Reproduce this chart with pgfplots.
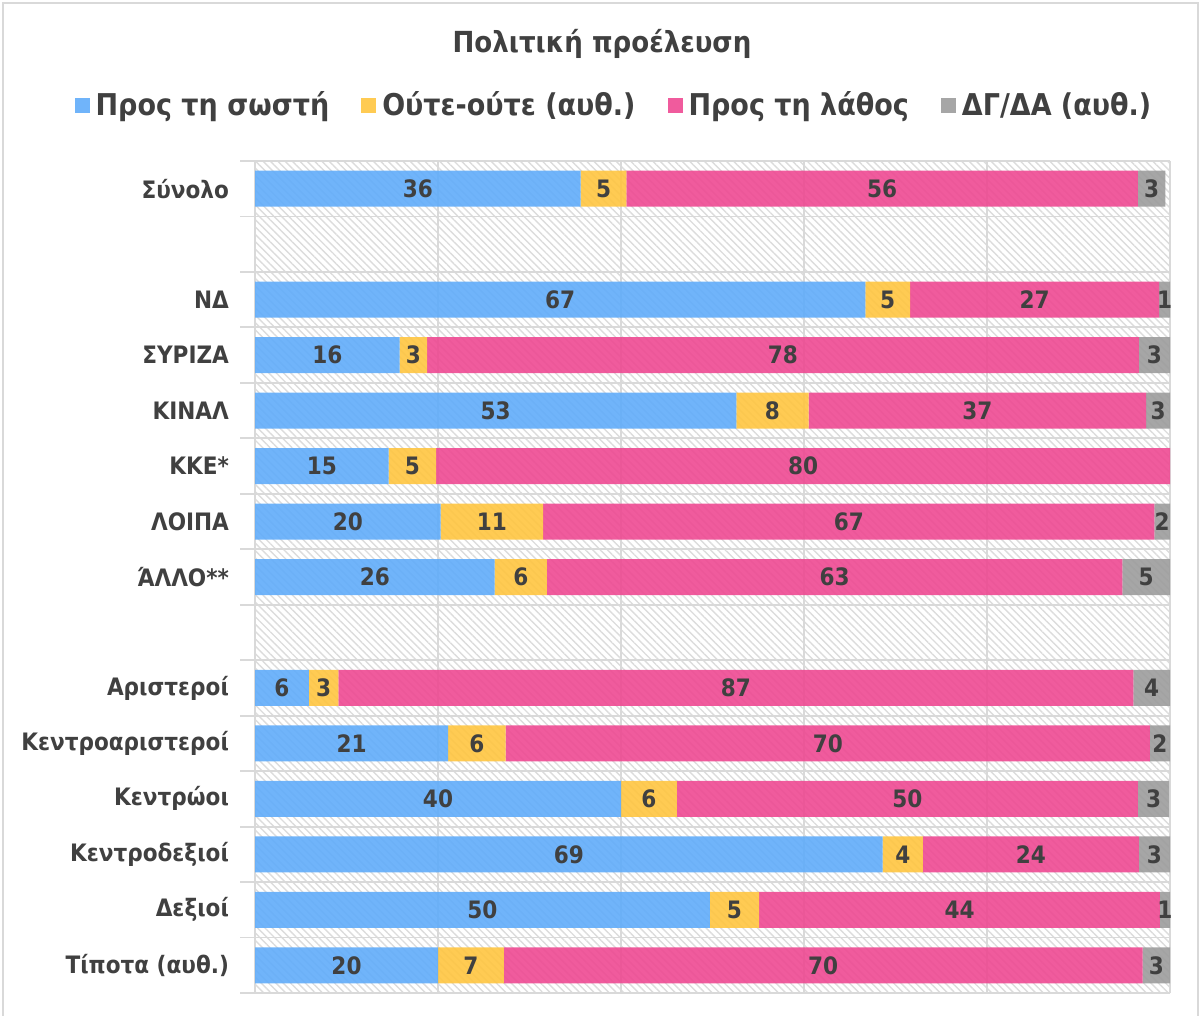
\documentclass[border=0pt]{standalone}
\usepackage{fontspec}
\setmainfont{DejaVu Sans Condensed}
\usepackage{pgfplots}
\pgfplotsset{compat=1.18}
\usepackage{pgfplotstable}
\usetikzlibrary{patterns.meta}
\definecolor{cblue}{HTML}{60ACFA}
\definecolor{cyellow}{HTML}{FFC540}
\definecolor{cpink}{HTML}{EE4992}
\definecolor{cgrey}{HTML}{9C9C9C}
\definecolor{labc}{HTML}{404040}
\definecolor{gridc}{HTML}{D9D9D9}
\definecolor{hatchc}{HTML}{DCDCDC}

\pgfplotstableread{
idx a b c d
0 35.6 5.0 55.9 3.0
2 66.7 4.9 27.2 1.2
3 15.8 3.0 77.8 3.4
4 52.6 7.9 36.9 2.6
5 14.6 5.2 80.2 0
6 20.3 11.2 66.8 1.7
7 26.2 5.7 62.9 5.2
9 5.9 3.2 86.9 4.0
10 21.1 6.3 70.4 2.2
11 40.0 6.1 50.4 3.4
12 68.6 4.4 23.6 3.4
13 49.7 5.4 43.8 1.1
14 20.0 7.2 69.8 3.0
}\data

\pgfplotsset{
  common/.style={
    at={(127.5pt,11.5pt)}, anchor=south west,
    scale only axis, width=457.5pt, height=416pt,
    xmin=0, xmax=100, ymin=-0.5, ymax=14.5, y dir=reverse,
  },
  lab/.style={draw=none, mark=none, fill=none},
}

\begin{document}
\begin{tikzpicture}
\useasboundingbox (0,0) rectangle (602pt,508pt);
\draw[gridc, line width=1pt] (1.5pt,-3pt) rectangle (599pt,506.5pt);
\node[font=\bfseries\fontsize{14.5pt}{17pt}\selectfont, text=labc] at (301pt,486pt) {Πολιτική προέλευση};
\begin{axis}[
  common,
  xbar stacked, bar width=18pt,
  xtick={0,20,...,100}, xticklabels={}, xmajorgrids,
  ytick={0,...,14},
  yticklabels={Σύνολο,{},ΝΔ,ΣΥΡΙΖΑ,ΚΙΝΑΛ,ΚΚΕ*,ΛΟΙΠΑ,ΆΛΛΟ**,{},Αριστεροί,Κεντροαριστεροί,Κεντρώοι,Κεντροδεξιοί,Δεξιοί,Τίποτα (αυθ.)},
  minor ytick={-0.5,0.5,...,14.5}, yminorgrids,
  grid style={draw=gridc, line width=0.9pt},
  minor grid style={draw=gridc, line width=0.9pt},
  major tick length=0pt, minor tick length=7.5pt, tick align=outside,
  tick pos=left,
  every tick/.style={draw=gridc, line width=0.9pt},
  axis line style={draw=none},
  axis background/.style={pattern={Lines[angle=-45,distance=2.6pt,line width=0.7pt]}, pattern color=hatchc},
  yticklabel style={font=\bfseries\fontsize{12pt}{15pt}\selectfont, text=labc, xshift=-9.5pt},
  every axis plot/.append style={draw=none, fill opacity=0.9},
  legend columns=4,
  legend style={at={(axis description cs:0.3945,1.067)}, anchor=center, draw=none, fill=none,
    font=\bfseries\fontsize{15pt}{18pt}\selectfont, text=labc,
    /tikz/every even column/.append style={column sep=13pt},
    nodes={inner xsep=3pt}},
  legend image code/.code={\fill[#1] (0pt,-3.75pt) rectangle (7.5pt,3.75pt);},
]
\addplot[fill=cblue] table[x=a, y=idx] {\data};
\addlegendentry{Προς τη σωστή}
\addplot[fill=cyellow] table[x=b, y=idx] {\data};
\addlegendentry{Ούτε-ούτε (αυθ.)}
\addplot[fill=cpink] table[x=c, y=idx] {\data};
\addlegendentry{Προς τη λάθος}
\addplot[fill=cgrey] table[x=d, y=idx] {\data};
\addlegendentry{ΔΓ/ΔΑ (αυθ.)}
\end{axis}
\begin{axis}[
  common, hide axis, clip=false,
  /pgf/number format/assume math mode=true,
  point meta=explicit,
  nodes near coords={\pgfmathfloatifflags{\pgfplotspointmeta}{0}{}{\pgfmathprintnumber[fixed,precision=0]{\pgfplotspointmeta}}},
  every node near coord/.append style={font=\bfseries\fontsize{12pt}{14pt}\selectfont, text=labc, anchor=center},
]
\addplot[lab] table[x expr={\thisrow{a}/2}, y=idx, meta=a] {\data};
\addplot[lab] table[x expr={\thisrow{a}+\thisrow{b}/2}, y=idx, meta=b] {\data};
\addplot[lab] table[x expr={\thisrow{a}+\thisrow{b}+\thisrow{c}/2}, y=idx, meta=c] {\data};
\addplot[lab] table[x expr={\thisrow{a}+\thisrow{b}+\thisrow{c}+\thisrow{d}/2}, y=idx, meta=d] {\data};
\end{axis}
\end{tikzpicture}
\end{document}
